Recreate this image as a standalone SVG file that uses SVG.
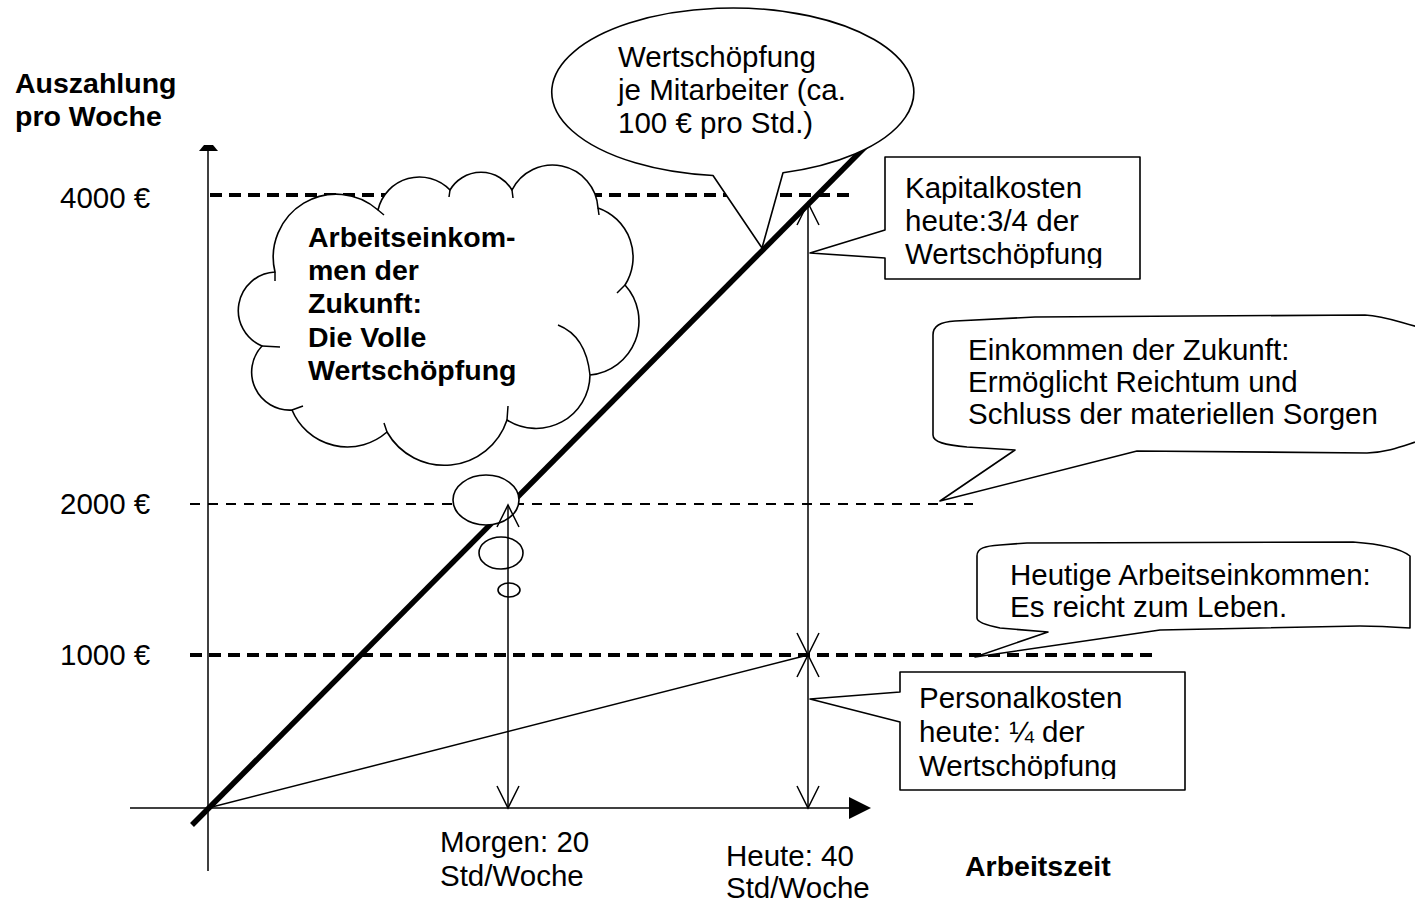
<svg xmlns="http://www.w3.org/2000/svg" width="1415" height="903" viewBox="0 0 1415 903">
<style>
.t{font-family:"Liberation Sans",Arial,sans-serif;font-size:29.5px;fill:#000}
.b{font-weight:bold;font-size:28.5px}
.ln{stroke:#000;stroke-width:1.5;fill:none}
.dk{stroke:#000;stroke-width:4;stroke-dasharray:12 7;fill:none}
.dn{stroke:#000;stroke-width:2;stroke-dasharray:10 8;fill:none}
.sh{fill:#fff;stroke:#000;stroke-width:1.6;stroke-linejoin:round}
</style>
<defs>
<marker id="v" markerUnits="userSpaceOnUse" markerWidth="26" markerHeight="26" viewBox="-2 -2 26 26" refX="22" refY="11" orient="auto-start-reverse">
<path d="M0,0 L22,11 L0,22" fill="none" stroke="#000" stroke-width="1.5"/>
</marker>
<clipPath id="c1"><rect x="885" y="157" width="255" height="111"/></clipPath>
<clipPath id="c2"><rect x="900" y="672" width="285" height="107"/></clipPath>
</defs>
<rect width="1415" height="903" fill="#fff"/>

<g id="gridlines">
<line class="dk" x1="210" y1="195" x2="850" y2="195"/>
<line class="dn" x1="190" y1="504" x2="973" y2="504"/>
<line class="dk" x1="190" y1="655" x2="1152" y2="655"/>
</g>

<g id="axes">
<line class="ln" x1="208" y1="150" x2="208" y2="871"/>
<polygon points="204,145 213,145 218,151 199,151" fill="#000"/>
<line class="ln" x1="130" y1="808" x2="852" y2="808"/>
<polygon points="849,797 871,808 849,819" fill="#000"/>
<text class="t b" x="15" y="93">Auszahlung</text>
<text class="t b" x="15" y="126">pro Woche</text>
<text class="t" x="60" y="208">4000 €</text>
<text class="t" x="60" y="514">2000 €</text>
<text class="t" x="60" y="665">1000 €</text>
<text class="t b" x="965" y="876">Arbeitszeit</text>
</g>

<g id="data-lines">
<line x1="192" y1="825" x2="870" y2="142" stroke="#000" stroke-width="5.5"/>
<line class="ln" x1="208" y1="808" x2="808" y2="655"/>
</g>

<g id="cloud">
<path class="sh" d="M275,272 A63 63 0 0 1 378,210 A42.5 42.5 0 0 1 450,190 A36 36 0 0 1 512,190 A45.5 45.5 0 0 1 598,208 A52 52 0 0 1 625,285 A54 54 0 0 1 590,375 A54 54 0 0 1 507,420 A66 66 0 0 1 387,432 A60 60 0 0 1 292,410 A38 38 0 0 1 262,346 A38.5 38.5 0 0 1 275,272 Z"/>
<path class="ln" d="M275,272 L275,281 M378,210 L384,215 M450,190 L449,197 M512,190 L513,198 M598,208 L599,215 M625,285 L617,293 M558,325 Q586,336 590,375 M507,420 L508,406 M387,432 L384,423 M292,410 L303,406 M262,346 L280,347"/>
<text class="t b" x="308" y="247">Arbeitseinkom-</text>
<text class="t b" x="308" y="280">men der</text>
<text class="t b" x="308" y="313">Zukunft:</text>
<text class="t b" x="308" y="347">Die Volle</text>
<text class="t b" x="308" y="380">Wertschöpfung</text>
</g>

<g id="thought-bubbles">
<ellipse class="sh" cx="486" cy="500" rx="33" ry="25"/>
<ellipse class="sh" cx="501" cy="553" rx="22" ry="16"/>
<ellipse class="sh" cx="509" cy="590" rx="11" ry="7"/>
</g>

<g id="callout-wertschoepfung">
<path class="sh" d="M713,175.5 L762,248 L783,172.7 A181 84 0 1 0 713,175.5 Z"/>
<text class="t" x="618" y="67">Wertschöpfung</text>
<text class="t" x="618" y="100">je Mitarbeiter (ca.</text>
<text class="t" x="618" y="133">100 € pro Std.)</text>
</g>

<g id="callout-kapitalkosten">
<path class="sh" d="M885,157 L1140,157 L1140,279 L885,279 L885,258 L810,253 L885,230 Z"/>
<g clip-path="url(#c1)">
<text class="t" x="905" y="198">Kapitalkosten</text>
<text class="t" x="905" y="231">heute:3/4 der</text>
<text class="t" x="905" y="264">Wertschöpfung</text>
</g>
</g>

<g id="callout-einkommen-zukunft">
<path class="sh" d="M933,335 C933,326 940,322 955,321 L1035,317 L1365,315 C1385,316 1398,322 1422,328 L1422,440 C1405,445 1390,452 1367,453 L1137,451 L940,501 L1015,450 L967,447 C945,445 933,442 933,435 Z"/>
<text class="t" x="968" y="360">Einkommen der Zukunft:</text>
<text class="t" x="968" y="392">Ermöglicht Reichtum und</text>
<text class="t" x="968" y="424">Schluss der materiellen Sorgen</text>
</g>

<g id="callout-heutige">
<path class="sh" d="M977,556 C977,548 985,546 1000,545 L1027,543 L1353,542 C1380,544 1400,548 1410,556 L1410,628 C1395,627 1380,626 1360,626 L1160,630 L975,657 L1048,632 L1000,628 C985,625 977,622 977,618 Z"/>
<text class="t" x="1010" y="585">Heutige Arbeitseinkommen:</text>
<text class="t" x="1010" y="617">Es reicht zum Leben.</text>
</g>

<g id="callout-personalkosten">
<path class="sh" d="M900,672 L1185,672 L1185,790 L900,790 L900,722 L810,699 L900,692 Z"/>
<g clip-path="url(#c2)">
<text class="t" x="919" y="708">Personalkosten</text>
<text class="t" x="919" y="742">heute: ¼ der</text>
<text class="t" x="919" y="776">Wertschöpfung</text>
</g>
</g>

<g id="connectors">
<line class="ln" x1="508" y1="808" x2="508" y2="505" marker-start="url(#v)" marker-end="url(#v)"/>
<line class="ln" x1="808" y1="203" x2="808" y2="655" marker-start="url(#v)" marker-end="url(#v)"/>
<line class="ln" x1="808" y1="655" x2="808" y2="808" marker-start="url(#v)" marker-end="url(#v)"/>
</g>

<g id="x-labels">
<text class="t" x="440" y="852">Morgen: 20</text>
<text class="t" x="440" y="886">Std/Woche</text>
<text class="t" x="726" y="866">Heute: 40</text>
<text class="t" x="726" y="898">Std/Woche</text>
</g>
</svg>
